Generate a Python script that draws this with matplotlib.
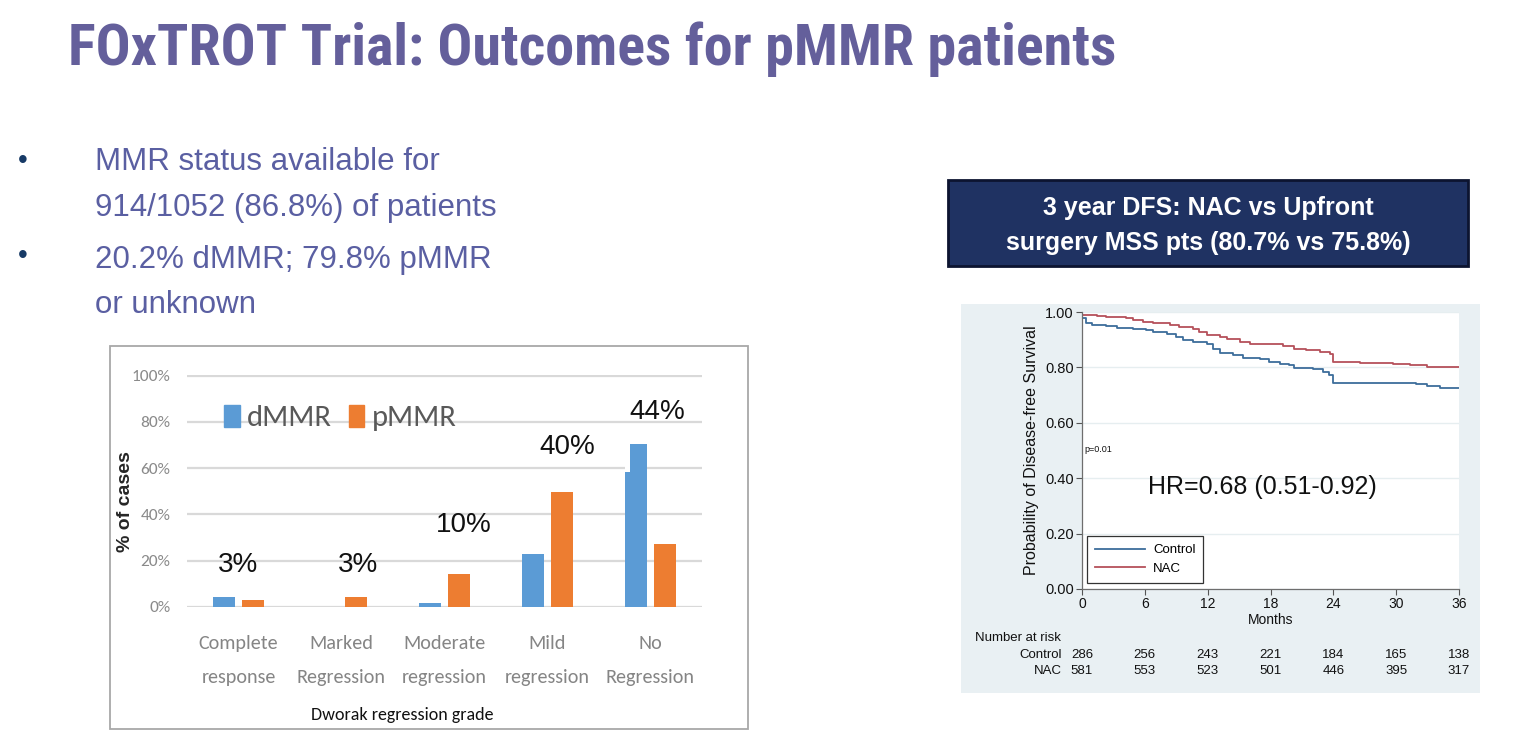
import matplotlib
matplotlib.use("Agg")
import matplotlib.pyplot as plt
from matplotlib.patches import Rectangle, Patch
import matplotlib.transforms as mtransforms

# ---- data ----
grades = ["Complete\nresponse", "Marked\nRegression", "Moderate\nregression",
          "Mild\nregression", "No\nRegression"]
dmmr = [4.3, 0.0, 1.7, 22.7, 70.4]
pmmr = [3.2, 4.3, 14.4, 49.5, 27.0]
dmmr_notch = 58.4  # left strip of the last dMMR bar is shorter in the source
pct_labels = ["3%", "3%", "10%", "40%", "44%"]
pct_label_x = [0.0, 1.166, 2.19, 3.2, 4.07]
pct_label_y = [18.1, 18.1, 35.4, 69.1, 84.2]

ctrl_t = [0, 0.4, 1.0, 2.3, 3.3, 4.9, 6.1, 6.8, 8.1, 9.0, 9.6, 10.6, 11.9, 12.5,
          13.2, 14.4, 15.4, 17.0, 17.9, 18.9, 19.8, 20.2, 22.1, 23.0, 23.6, 24.0,
          31.9, 32.9, 34.2, 36]
ctrl_s = [0.980, 0.962, 0.953, 0.950, 0.943, 0.940, 0.935, 0.928, 0.922, 0.911,
          0.898, 0.892, 0.883, 0.865, 0.851, 0.844, 0.833, 0.829, 0.820, 0.811,
          0.808, 0.797, 0.793, 0.784, 0.774, 0.745, 0.739, 0.733, 0.727, 0.727]
nac_t = [0, 1.4, 2.3, 4.2, 4.9, 5.8, 6.8, 8.4, 9.3, 10.6, 11.2, 11.9, 13.2, 13.8,
         15.1, 16.0, 17.9, 19.2, 20.2, 21.4, 22.7, 23.7, 24.0, 26.5, 29.7, 31.3,
         32.9, 36]
nac_s = [0.990, 0.986, 0.982, 0.980, 0.971, 0.965, 0.962, 0.954, 0.947, 0.938,
         0.928, 0.916, 0.911, 0.904, 0.893, 0.886, 0.883, 0.877, 0.868, 0.862,
         0.856, 0.847, 0.821, 0.815, 0.811, 0.808, 0.802, 0.802]
risk_months = [0, 6, 12, 18, 24, 30, 36]
risk_ctrl = [286, 256, 243, 221, 184, 165, 138]
risk_nac = [581, 553, 523, 501, 446, 395, 317]

title = "FOxTROT Trial: Outcomes for pMMR patients"
bullet_lines = ["MMR status available for", "914/1052 (86.8%) of patients",
                "20.2% dMMR; 79.8% pMMR", "or unknown"]
box_lines = ["3 year DFS: NAC vs Upfront", "surgery MSS pts (80.7% vs 75.8%)"]

# ---- fonts ----
SANS = "Liberation Sans"
COND_BOLD = ["Roboto Condensed", "PT Sans Narrow", SANS]
CALIBRI = ["Carlito", "Archivo Narrow", SANS]
plt.rcParams["font.family"] = [SANS, "DejaVu Sans"]

W, H = 1513, 740
fig = plt.figure(figsize=(W / 100, H / 100), dpi=100)
renderer = fig.canvas.get_renderer()


def fx(x):
    return x / W


def fy(y):
    return 1 - y / H


def fit_width(t, target):
    w = t.get_window_extent(renderer).width
    t.set_fontsize(t.get_fontsize() * target / w)


# title
t = fig.text(fx(68), fy(65), title, family=COND_BOLD, weight="bold", fontsize=43,
             color="#645f9b", va="baseline")
fit_width(t, 1050)

# bullets
text_col = "#5a5fa2"
baselines = [170, 216, 268, 313]
objs = []
for line, b in zip(bullet_lines, baselines):
    objs.append(fig.text(fx(95), fy(b), line, fontsize=23, color=text_col, va="baseline"))
w = objs[1].get_window_extent(renderer).width
for o in objs:
    o.set_fontsize(23 * 402 / w)
for b in [161, 256]:
    fig.text(fx(23), fy(b), "\u2022", fontsize=20, color="#173a66", ha="center", va="center")

# ---- bar chart ----
fig.patches.append(Rectangle((fx(110), fy(729)), 638 / W, 383 / H, transform=fig.transFigure,
                             fill=False, edgecolor="#a8a8a8", lw=1.3))
ax = fig.add_axes([fx(187), fy(607), 514.5 / W, 231.5 / H])
x = list(range(len(grades)))
bw = 0.214
off = 0.141
blue, orange = "#5b9bd5", "#ed7d31"
ax.bar([i - off for i in x], dmmr, width=bw, color=blue, zorder=2)
ax.bar([i + off for i in x], pmmr, width=bw, color=orange, zorder=2)
ax.bar(x[-1] - off - bw / 2, dmmr[-1] - dmmr_notch, bottom=dmmr_notch, width=0.05,
       align="edge", color="white", zorder=3)
ax.set_xlim(-0.5, 4.5)
ax.set_ylim(0, 100)
ax.set_yticks(range(0, 101, 20))
ax.set_yticklabels([f"{v}%" for v in range(0, 101, 20)], family=CALIBRI, fontsize=12.5,
                   color="#8a8a8a")
ax.set_xticks(x)
ax.set_xticklabels(grades, family=CALIBRI, fontsize=14.5, color="#858585", linespacing=2.25)
ax.tick_params(axis="y", length=0, pad=12)
ax.tick_params(axis="x", length=0, pad=20)
ax.grid(axis="y", color="#d9d9d9", lw=1.6)
ax.set_axisbelow(True)
for s in ax.spines.values():
    s.set_visible(False)
for lab, lx, ly in zip(pct_labels, pct_label_x, pct_label_y):
    ax.text(lx, ly, lab, fontsize=20, color="#111111", ha="center", va="center")
leg = ax.legend(handles=[Patch(color=blue, label="dMMR"), Patch(color=orange, label="pMMR")],
                ncol=2, frameon=False, loc="center left", bbox_to_anchor=(fx(209), fy(418)),
                bbox_transform=fig.transFigure, prop={"family": CALIBRI, "size": 22},
                handlelength=0.5, handleheight=0.75, handletextpad=0.25, columnspacing=0.55,
                labelcolor="#595959", borderpad=0)
fig.text(fx(126), fy(502), "% of cases", rotation=90, weight="bold", fontsize=14,
         color="#262626", ha="center", va="center")
fig.text(fx(402), fy(715), "Dworak regression grade", family=CALIBRI, fontsize=13,
         color="#111111", ha="center", va="center")

# ---- navy box ----
fig.patches.append(Rectangle((fx(948), fy(266)), 520 / W, 86 / H, transform=fig.transFigure,
                             facecolor="#1f3262", edgecolor="#0c1430", lw=2))
for line, yc in zip(box_lines, [208, 243]):
    fig.text(fx(1208), fy(yc), line, fontsize=18, weight="bold", color="white",
             ha="center", va="center")

# ---- KM plot ----
fig.patches.append(Rectangle((fx(961), fy(693)), 519 / W, 389 / H, transform=fig.transFigure,
                             facecolor="#e9f0f3", edgecolor="none", zorder=-1))
km = fig.add_axes([fx(1082), fy(589), 377 / W, 277 / H])
km.set_zorder(2)
km.set_facecolor("white")
km.step(ctrl_t, ctrl_s, where="post", color="#3d6d9b", lw=1.3, label="Control")
km.step(nac_t, nac_s, where="post", color="#b5505a", lw=1.3, label="NAC")
km.set_xlim(0, 36)
km.set_ylim(0, 1)
km.set_xticks(risk_months)
km.set_yticks([0, 0.2, 0.4, 0.6, 0.8, 1.0])
km.set_yticklabels([f"{v:.2f}" for v in [0, 0.2, 0.4, 0.6, 0.8, 1.0]])
km.tick_params(labelsize=10.5, length=4, width=0.8, color="#555555", pad=2, labelcolor="#111111")
km.tick_params(axis="x", labelsize=10)
km.grid(axis="y", color="#e6eef0", lw=1)
km.set_axisbelow(True)
for s in ["top", "right"]:
    km.spines[s].set_visible(False)
for s in ["left", "bottom"]:
    km.spines[s].set_color("#6e6e6e")
    km.spines[s].set_linewidth(0.9)
km.set_xlabel("Months", fontsize=10, labelpad=1.5, color="#111111")
km.set_ylabel("Probability of Disease-free Survival", fontsize=11.5, labelpad=4, color="#111111")
km.text(0.2, 0.505, "p=0.01", fontsize=6.5, color="#111111", va="center")
km.text(6.3, 0.37, "HR=0.68 (0.51-0.92)", fontsize=18, color="#111111", va="center")
km.legend(loc="lower left", bbox_to_anchor=(fx(1087), fy(583)), bbox_transform=fig.transFigure,
          fontsize=9.5, handlelength=3.8, fancybox=False, edgecolor="#333333",
          framealpha=1, borderpad=0.6, labelspacing=0.5, handletextpad=0.6,
          borderaxespad=0).get_frame().set_linewidth(0.9)

tr = mtransforms.blended_transform_factory(km.transData, fig.transFigure)
fig.text(fx(975), fy(638), "Number at risk", fontsize=9.5, color="#111111", va="center")
for lab, vals, yc in [("Control", risk_ctrl, 655), ("NAC", risk_nac, 671)]:
    fig.text(fx(1062), fy(yc), lab, fontsize=9.5, color="#111111", ha="right", va="center")
    for m, v in zip(risk_months, vals):
        fig.text(m, fy(yc), str(v), fontsize=9.5, color="#111111", ha="center", va="center",
                 transform=tr)

fig.savefig("out.png", dpi=100)
